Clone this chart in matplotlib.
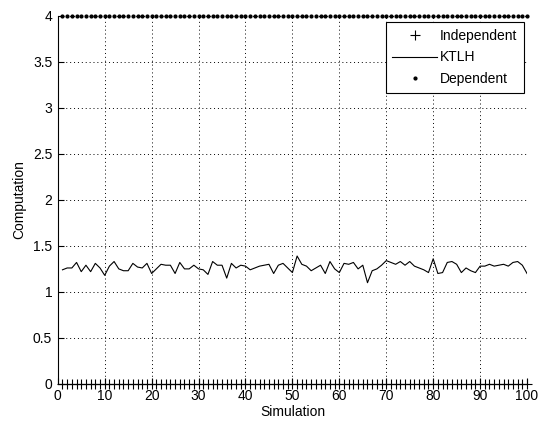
import matplotlib
matplotlib.use("Agg")
import matplotlib.pyplot as plt
import numpy as np

plt.rcParams['font.family'] = ['Liberation Sans', 'DejaVu Sans']

simulation = np.arange(1, 101)
independent = [0] * 100
dependent = [4] * 100
ktlh = [1.24, 1.26, 1.26, 1.32, 1.22, 1.29, 1.22, 1.31, 1.26, 1.18,
        1.28, 1.33, 1.25, 1.23, 1.23, 1.31, 1.27, 1.26, 1.31, 1.20,
        1.25, 1.30, 1.29, 1.29, 1.20, 1.32, 1.25, 1.25, 1.29, 1.25,
        1.24, 1.19, 1.33, 1.29, 1.29, 1.15, 1.31, 1.26, 1.29, 1.28,
        1.24, 1.26, 1.28, 1.29, 1.30, 1.20, 1.29, 1.31, 1.26, 1.21,
        1.39, 1.30, 1.28, 1.23, 1.26, 1.29, 1.20, 1.33, 1.25, 1.21,
        1.31, 1.30, 1.32, 1.25, 1.29, 1.10, 1.23, 1.25, 1.29, 1.34,
        1.32, 1.30, 1.33, 1.29, 1.33, 1.28, 1.26, 1.24, 1.21, 1.36,
        1.20, 1.21, 1.32, 1.33, 1.30, 1.21, 1.26, 1.23, 1.21, 1.28,
        1.28, 1.30, 1.28, 1.29, 1.30, 1.28, 1.32, 1.33, 1.29, 1.20]

fs = 10

fig = plt.figure(figsize=(5.4, 4.28), dpi=100)
ax = fig.add_axes([0.107, 0.103, 0.869, 0.860])

ax.plot(simulation, independent, '+', color='black', markersize=7, mew=0.8,
        label='Independent', clip_on=False, zorder=3)
ax.plot(simulation, ktlh, '-', color='black', lw=0.8, label='KTLH')
ax.plot(simulation, dependent, '.', color='black', markersize=4,
        label='Dependent', clip_on=False, zorder=3)

ax.set_xlim(0, 100)
ax.set_ylim(0, 4)
ax.set_xticks(np.arange(0, 101, 10))
ax.set_yticks(np.arange(0, 4.01, 0.5))
ax.set_yticklabels(['0', '0.5', '1', '1.5', '2', '2.5', '3', '3.5', '4'])
ax.grid(True, linestyle=(0, (1, 3)), color='black', lw=0.7)
ax.tick_params(direction='in', length=4, labelsize=fs, pad=4)
for side in ['top', 'right']:
    ax.spines[side].set_visible(False)
for side in ['left', 'bottom']:
    ax.spines[side].set_linewidth(0.8)

ax.set_xlabel('Simulation', fontsize=fs, labelpad=1)
ax.set_ylabel('Computation', fontsize=fs, labelpad=5)

leg = ax.legend(loc='upper right', bbox_to_anchor=(0.9936, 0.9837), fontsize=fs,
                frameon=True, fancybox=False, edgecolor='black', framealpha=1,
                handlelength=3.2, borderpad=0.5, labelspacing=0.55,
                handletextpad=0.2, borderaxespad=0)
leg.get_frame().set_linewidth(0.8)

fig.savefig('out.png', dpi=100)
